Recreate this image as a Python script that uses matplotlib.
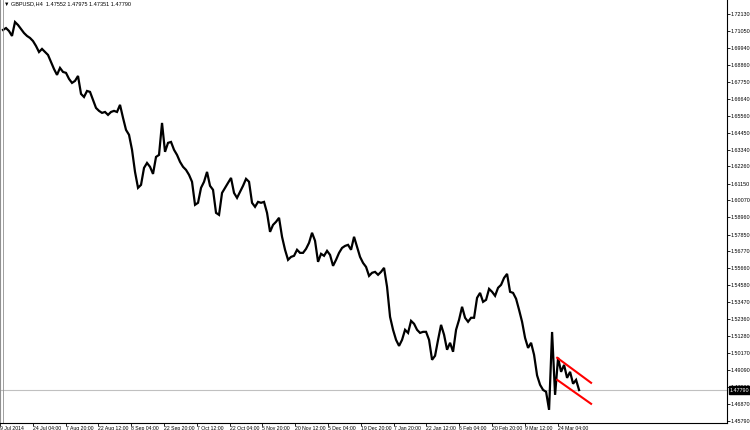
import matplotlib.pyplot as plt
import numpy as np

plt.rcParams["font.family"] = ["Liberation Sans", "DejaVu Sans"]

# H4 closes, sampled along the chart (oldest first)
closes = [
    1.7110, 1.7122, 1.7103, 1.7071, 1.7161, 1.7142, 1.7116, 1.7090, 1.7071, 1.7058,
    1.7038, 1.7006, 1.6967, 1.6987, 1.6967, 1.6948, 1.6902, 1.6857, 1.6819, 1.6864,
    1.6838, 1.6832, 1.6793, 1.6767, 1.6780, 1.6812, 1.6696, 1.6676, 1.6715, 1.6709,
    1.6657, 1.6605, 1.6586, 1.6573, 1.6579, 1.6560, 1.6579, 1.6586, 1.6579, 1.6625,
    1.6541, 1.6463, 1.6431, 1.6334, 1.6191, 1.6088, 1.6107, 1.6217, 1.6249, 1.6224,
    1.6178, 1.6288, 1.6301, 1.6508, 1.6321, 1.6379, 1.6385, 1.6334, 1.6301, 1.6256,
    1.6224, 1.6204, 1.6172, 1.6127, 1.5978, 1.5991, 1.6088, 1.6127, 1.6191, 1.6101,
    1.6075, 1.5926, 1.5913, 1.6055, 1.6088, 1.6120, 1.6152, 1.6055, 1.6023, 1.6062,
    1.6101, 1.6146, 1.6127, 1.5991, 1.5965, 1.5997, 1.5991, 1.5997, 1.5926, 1.5803,
    1.5848, 1.5868, 1.5894, 1.5771, 1.5687, 1.5622, 1.5641, 1.5648, 1.5687, 1.5667,
    1.5667, 1.5693, 1.5732, 1.5797, 1.5745, 1.5609, 1.5661, 1.5648, 1.5680, 1.5654,
    1.5583, 1.5622, 1.5667, 1.5699, 1.5712, 1.5719, 1.5687, 1.5771, 1.5706, 1.5641,
    1.5602, 1.5576, 1.5518, 1.5538, 1.5544, 1.5525, 1.5544, 1.5570, 1.5447, 1.5253,
    1.5169, 1.5104, 1.5065, 1.5104, 1.5169, 1.5149, 1.5227, 1.5208, 1.5169, 1.5149,
    1.5156, 1.5156, 1.5104, 1.4975, 1.5001, 1.5104, 1.5201, 1.5137, 1.5040, 1.5085,
    1.5027, 1.5169, 1.5234, 1.5318, 1.5247, 1.5221, 1.5247, 1.5247, 1.5376, 1.5408,
    1.5350, 1.5363, 1.5434, 1.5415, 1.5389, 1.5441, 1.5460, 1.5505, 1.5531, 1.5415,
    1.5408, 1.5370, 1.5298, 1.5221, 1.5117, 1.5052, 1.5085, 1.5007, 1.4874, 1.4813,
    1.4780, 1.4768, 1.4651, 1.5155, 1.4748, 1.4988, 1.4897, 1.4942, 1.4858, 1.4897,
    1.4820, 1.4845, 1.4779,
]

# flag channel drawn on the chart (bar index, price)
channel_x = [184.7, 196.0]
channel_upper = [1.4988, 1.4826]
channel_lower = [1.4845, 1.4690]

last_price = 1.47790
header = "\u25bc GBPUSD,H4  1.47552 1.47975 1.47351 1.47790"

price_ticks = [
    1.72130, 1.71050, 1.69940, 1.68860, 1.67750, 1.66640, 1.65560, 1.64450,
    1.63340, 1.62260, 1.61150, 1.60070, 1.58960, 1.57850, 1.56770, 1.55660,
    1.54580, 1.53470, 1.52360, 1.51280, 1.50170, 1.49090, 1.47980, 1.46870,
    1.45790,
]
time_labels = [
    "9 Jul 2014", "24 Jul 04:00", "7 Aug 20:00", "22 Aug 12:00", "8 Sep 04:00",
    "22 Sep 20:00", "7 Oct 12:00", "22 Oct 04:00", "5 Nov 20:00", "20 Nov 12:00",
    "5 Dec 04:00", "19 Dec 20:00", "7 Jan 20:00", "22 Jan 12:00", "6 Feb 04:00",
    "20 Feb 20:00", "9 Mar 12:00", "24 Mar 04:00",
]

fig = plt.figure(figsize=(7.5, 4.3), dpi=100)
ax = fig.add_axes([0.0, 7 / 430, 727 / 750, 423 / 430])

bars = np.arange(len(closes))
ax.plot(bars, closes, c="black", lw=1.6, solid_joinstyle="miter")
ax.axhline(last_price, c="#c0c0c0", lw=0.8, zorder=0)
ax.plot(channel_x, channel_upper, c="red", lw=1.5)
ax.plot(channel_x, channel_lower, c="red", lw=1.5)

ax.set_xlim(-1, 241.3)
ax.set_ylim(1.45659, 1.73036)

ax.yaxis.tick_right()
ax.set_yticks(price_ticks)
ax.set_yticklabels([f"{p:.5f}" for p in price_ticks])
ax.tick_params(axis="y", length=2, width=0.6, pad=0.8, labelsize=3.9, colors="black")

tick_pos = np.arange(len(time_labels)) * 10.93 - 1
ax.set_xticks(tick_pos)
ax.set_xticklabels(time_labels, ha="left")
ax.tick_params(axis="x", length=2, width=0.6, pad=0.5, labelsize=3.7)

ax.spines["top"].set_visible(False)
ax.spines["left"].set_color("#909090")
ax.spines["right"].set_linewidth(0.8)
ax.spines["bottom"].set_linewidth(0.8)
ax.axvline(0.0, c="#909090", lw=0.6)

ax.text(0.006, 0.996, header, transform=ax.transAxes, fontsize=4.0, va="top", ha="left")
ax.text(1.004, last_price, f"{last_price:.5f}", transform=ax.get_yaxis_transform(),
        fontsize=3.9, color="white", va="center", ha="left", zorder=5,
        bbox=dict(boxstyle="square,pad=0.2", fc="black", ec="black"))

fig.savefig("out.png", dpi=100, facecolor="white")
